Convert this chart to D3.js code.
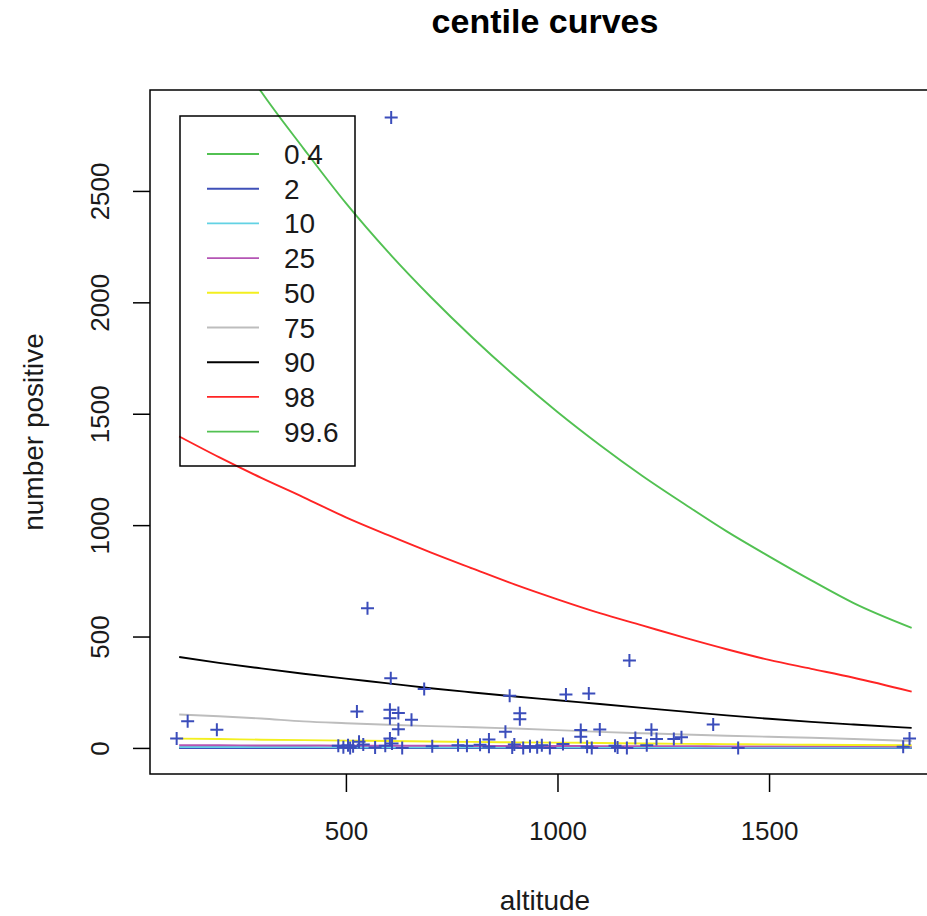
<!DOCTYPE html>
<html>
<head>
<meta charset="utf-8">
<script src="https://cdn.jsdelivr.net/npm/d3@7"></script>
<style>
  body { margin: 0; background: #fff; }
  svg { font-family: "Liberation Sans", Arial, sans-serif; }
</style>
</head>
<body>
<svg width="927" height="916"></svg>
<script>
// altitude grid the centile curves are read on
const altGrid = [106, 200, 300, 400, 500, 600, 700, 800, 900, 1000, 1100, 1200, 1300, 1400, 1500, 1600, 1700, 1837];

const c0_4  = [0, 0, 0, 0, 0, 0, 0, 0, 0, 0, 0, 0, 0, 0, 0, 0, 0, 0];
const c2    = [0, 0, 0, 0, 0, 0, 0, 0, 0, 0, 0, 0, 0, 0, 0, 0, 0, 0];
const c10   = [4, 4, 4, 4, 3, 3, 3, 3, 3, 3, 3, 3, 2, 2, 2, 2, 2, 2];
const c25   = [12, 12, 11, 11, 10, 10, 10, 9, 9, 9, 8, 8, 8, 7, 7, 7, 7, 6];
const c50   = [42, 40, 37, 35, 33, 31, 29, 27, 25, 24, 22, 20, 18, 17, 16, 14, 13, 12];
const c75   = [150, 142, 132, 119, 111, 104, 98, 93, 87, 80, 72, 66, 60, 55, 50, 46, 40, 31];
const c90   = [408, 382, 357, 333, 311, 290, 268, 249, 231, 214, 197, 180, 163, 146, 131, 117, 105, 90];
const c98   = [1398, 1305, 1212, 1125, 1035, 955, 878, 805, 733, 667, 605, 550, 495, 443, 395, 355, 315, 253];
const c99_6 = [3530, 3240, 2945, 2690, 2445, 2225, 2025, 1840, 1668, 1508, 1360, 1222, 1095, 972, 860, 752, 650, 539];

const centileNames = ["0.4", "2", "10", "25", "50", "75", "90", "98", "99.6"];
const centileColors = ["#52c152", "#3f50b8", "#62d2e4", "#b455b4", "#f3ef1f", "#bdbdbd", "#000000", "#ff2424", "#52c152"];
const centileValues = [c0_4, c2, c10, c25, c50, c75, c90, c98, c99_6];

// observed data: altitude, number positive
const altitude = [607, 551, 1170, 606, 685, 887, 1020, 1074, 526, 604, 624, 604, 655, 911, 911, 1368, 126, 195, 624, 877, 1055, 1100, 1222,
  100, 604, 838, 1055, 1184, 1234, 1275, 1293, 1832, 531,
  482, 494, 505, 510, 517, 541, 569, 593, 609, 633, 704, 765, 786, 817, 838, 893, 898, 919, 935, 952, 963, 982, 1013, 1070, 1081, 1136, 1142, 1164, 1211, 1427, 1817];
const positive = [2830, 627, 392, 313, 265, 234, 240, 244, 163, 171, 157, 133, 126, 156, 129, 105, 120, 82, 84, 73, 81, 83, 82,
  42, 42, 38, 50, 45, 40, 40, 48, 42, 28,
  10, 3, 12, 0, 8, 15, 2, 10, 20, 0, 8, 12, 10, 14, 5, 2, 15, 0, 8, 3, 12, 0, 18, 5, 0, 10, 2, 0, 12, 0, 5];

const xTicks = [500, 1000, 1500];
const yTicks = [0, 500, 1000, 1500, 2000, 2500];

const svg = d3.select("svg");

const plotLeft = 150, plotRight = 940, plotTop = 90, plotBottom = 774;

const x = d3.scaleLinear().domain([37, 1904]).range([plotLeft, plotRight]);
const y = d3.scaleLinear().domain([-117, 2953]).range([plotBottom, plotTop]);

svg.append("clipPath").attr("id", "plotclip")
  .append("rect")
  .attr("x", plotLeft).attr("y", plotTop)
  .attr("width", plotRight - plotLeft).attr("height", plotBottom - plotTop);

const plot = svg.append("g").attr("clip-path", "url(#plotclip)");

// centile curves
const line = d3.line()
  .x((d, i) => x(altGrid[i]))
  .y(d => y(d))
  .curve(d3.curveMonotoneX);

plot.selectAll(".curve")
  .data(centileValues)
  .enter().append("path")
  .attr("class", "curve")
  .attr("d", d => line(d))
  .attr("fill", "none")
  .attr("stroke", (d, i) => centileColors[i])
  .attr("stroke-width", 1.9);

// points as "+"
const pts = altitude.map((a, i) => ({ a: a, p: positive[i] }));
plot.selectAll(".pt")
  .data(pts)
  .enter().append("path")
  .attr("class", "pt")
  .attr("d", d => {
    const px = x(d.a), py = y(d.p);
    return `M${px - 6.5},${py}h13M${px},${py - 6.5}v13`;
  })
  .attr("stroke", "#3b4dbb")
  .attr("stroke-width", 2)
  .attr("fill", "none");

// box
svg.append("rect")
  .attr("x", plotLeft).attr("y", plotTop)
  .attr("width", plotRight - plotLeft).attr("height", plotBottom - plotTop)
  .attr("fill", "none")
  .attr("stroke", "#000")
  .attr("stroke-width", 1.5);

// x axis
const xAxis = svg.append("g")
  .attr("transform", `translate(0,${plotBottom})`)
  .call(d3.axisBottom(x).tickValues(xTicks).tickSize(18).tickSizeOuter(0).tickFormat(d3.format("d")));
xAxis.select(".domain").remove();
xAxis.selectAll(".tick line").attr("stroke", "#000").attr("stroke-width", 1.5);
xAxis.selectAll(".tick text")
  .attr("y", 66).attr("dy", null)
  .attr("font-size", 26)
  .attr("fill", "#1a1a1a")
  .attr("font-family", "Liberation Sans, Arial, sans-serif");

// y axis, labels parallel to the axis
const yAxis = svg.append("g")
  .attr("transform", `translate(${plotLeft},0)`)
  .call(d3.axisLeft(y).tickValues(yTicks).tickSize(17).tickSizeOuter(0).tickFormat(d3.format("d")));
yAxis.select(".domain").remove();
yAxis.selectAll(".tick line").attr("stroke", "#000").attr("stroke-width", 1.5);
yAxis.selectAll(".tick text")
  .attr("x", 0).attr("y", -41).attr("dy", null)
  .attr("transform", "rotate(-90)")
  .attr("text-anchor", "middle")
  .attr("font-size", 26)
  .attr("fill", "#1a1a1a")
  .attr("font-family", "Liberation Sans, Arial, sans-serif");

// titles
svg.append("text")
  .attr("x", (plotLeft + plotRight) / 2).attr("y", 33)
  .attr("text-anchor", "middle")
  .attr("font-size", 34)
  .attr("font-weight", "bold")
  .attr("fill", "#000")
  .text("centile curves");

svg.append("text")
  .attr("x", (plotLeft + plotRight) / 2).attr("y", 910)
  .attr("text-anchor", "middle")
  .attr("font-size", 28)
  .attr("fill", "#1a1a1a")
  .text("altitude");

svg.append("text")
  .attr("transform", `translate(43,${(plotTop + plotBottom) / 2}) rotate(-90)`)
  .attr("text-anchor", "middle")
  .attr("font-size", 28)
  .attr("fill", "#1a1a1a")
  .text("number positive");

// legend (transparent, curves show through)
const lg = svg.append("g");
lg.append("rect")
  .attr("x", 180).attr("y", 116)
  .attr("width", 175).attr("height", 350)
  .attr("fill", "none")
  .attr("stroke", "#000")
  .attr("stroke-width", 1.5);

const rows = lg.selectAll(".row")
  .data(centileNames)
  .enter().append("g")
  .attr("class", "row")
  .attr("transform", (d, i) => `translate(0,${154 + i * 34.7})`);

rows.append("line")
  .attr("x1", 207).attr("x2", 259)
  .attr("stroke", (d, i) => centileColors[i])
  .attr("stroke-width", 1.9);

rows.append("text")
  .attr("x", 284).attr("y", 10)
  .attr("font-size", 28)
  .attr("fill", "#1a1a1a")
  .text(d => d);
</script>
</body>
</html>
